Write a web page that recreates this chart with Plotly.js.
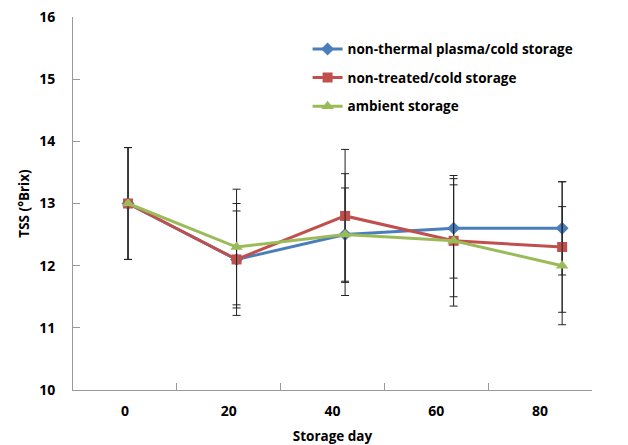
<!DOCTYPE html>
<html>
<head>
<meta charset="utf-8">
<script src="https://cdn.plot.ly/plotly-3.0.1.min.js"></script>
<style>html,body{margin:0;padding:0;background:#fff}#chart{width:628px;height:445px}</style>
</head>
<body>
<div id="chart"></div>
<script>
// Data
var days = [0, 20, 40, 60, 80];
var dayLabels = ["0", "20", "40", "60", "80"];
var plasmaCold = [13.0, 12.1, 12.5, 12.6, 12.6];
var plasmaColdErr = [0.9, 0.78, 0.75, 0.8, 0.75];
var untreatedCold = [13.0, 12.1, 12.8, 12.4, 12.3];
var untreatedColdErr = [0.9, 0.9, 1.07, 1.05, 1.05];
var ambient = [13.0, 12.3, 12.5, 12.4, 12.0];
var ambientErr = [0.9, 0.93, 0.98, 0.9, 0.95];
var seriesNames = ["non-thermal plasma/cold storage", "non-treated/cold storage", "ambient storage"];

var FONT = "Open Sans, Liberation Sans, sans-serif";
var errStyle = function(arr){ return {type:'data', array: arr, visible:true, color:'#222', thickness:1, width:4}; };

var traces = [
  {x: days, y: plasmaCold, name: seriesNames[0], mode:'lines+markers', legendgroup:'a',
   line:{color:'#4a7ebb', width:3}, marker:{symbol:'diamond', size:10, color:'#4a7ebb'},
   error_y: errStyle(plasmaColdErr)},
  {x: days, y: untreatedCold, name: seriesNames[1], mode:'lines+markers', legendgroup:'b',
   line:{color:'#c0504d', width:3}, marker:{symbol:'square', size:10, color:'#c0504d'},
   error_y: errStyle(untreatedColdErr)},
  {x: days, y: ambient, name: seriesNames[2], mode:'lines+markers', legendgroup:'c',
   line:{color:'#9bbb59', width:3}, marker:{symbol:'triangle-up', size:11, color:'#9bbb59'},
   error_y: errStyle(ambientErr)},
  {x: dayLabels, y: plasmaCold, xaxis:'x2', mode:'markers', marker:{opacity:0}, showlegend:false, hoverinfo:'skip'}
];

var layout = {
  width: 628, height: 445,
  margin: {l:73, r:36, t:17, b:55},
  paper_bgcolor:'#fff', plot_bgcolor:'#fff',
  font: {family: FONT, size: 13, color:'#000', weight: 'bold'},
  showlegend: true,
  legend: {x: 0.452, y: 0.955, xanchor:'left', yanchor:'top', bgcolor:'rgba(0,0,0,0)',
           font:{family:FONT, size:13.5, weight:'bold'}, itemwidth:30, tracegroupgap:8, traceorder:'grouped'},
  xaxis: {type:'linear', range:[-10.14, 85.5], showticklabels:false, ticks:'', showgrid:false,
          zeroline:false, showline:false, fixedrange:true},
  xaxis2: {type:'category', overlaying:'x', side:'bottom', range:[-0.5, 4.5], tickson:'boundaries',
           ticks:'inside', ticklen:7, tickcolor:'#999', showline:true, linecolor:'#999', linewidth:1,
           showgrid:false, zeroline:false, ticklabelstandoff:8,
           tickfont:{family:FONT, size:14, weight:'bold'},
           title:{text:'Storage day', font:{family:FONT, size:13.5, weight:'bold'}, standoff:14}},
  yaxis: {range:[10, 16], dtick:1, ticks:'inside', ticklen:7, tickcolor:'#999', showline:true,
          linecolor:'#999', linewidth:1, showgrid:false, zeroline:false, ticklabelstandoff:14,
          tickfont:{family:FONT, size:14, weight:'bold'},
          title:{text:'TSS (°Brix)', font:{family:FONT, size:13.5, weight:'bold'}, standoff:6}}
};

Plotly.newPlot('chart', traces, layout, {displayModeBar:false, staticPlot:true});
</script>
</body>
</html>
